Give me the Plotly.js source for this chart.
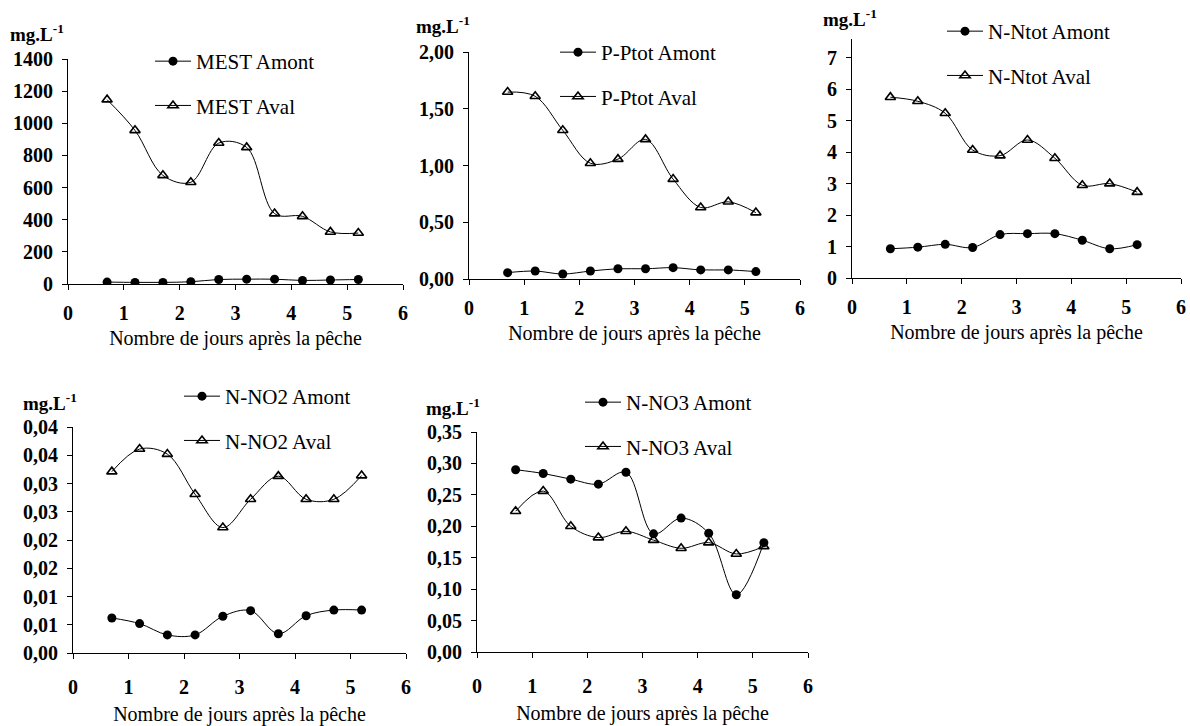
<!DOCTYPE html>
<html><head><meta charset="utf-8">
<script src="https://cdn.plot.ly/plotly-3.0.1.min.js"></script>
<style>html,body{margin:0;padding:0;background:#fff}</style>
</head><body><div id="chart" style="width:1190px;height:726px"></div>
<script>
const days = [0.7, 1.2, 1.7, 2.2, 2.7, 3.2, 3.7, 4.2, 4.7, 5.2];
const xTicks = [0, 1, 2, 3, 4, 5, 6];

const mestAmont = [12, 10, 10, 14, 28, 30, 30, 22, 25, 28];
const mestAval = [1147, 956, 676, 633, 877, 850, 438, 421, 324, 317];

const ptotAmont = [0.056, 0.07, 0.044, 0.07, 0.09, 0.09, 0.10, 0.08, 0.08, 0.065];
const ptotAval = [1.647, 1.61, 1.31, 1.02, 1.056, 1.23, 0.88, 0.63, 0.68, 0.585];

const ntotAmont = [0.93, 0.98, 1.07, 0.97, 1.38, 1.41, 1.41, 1.20, 0.93, 1.06];
const ntotAval = [5.75, 5.62, 5.24, 4.07, 3.89, 4.39, 3.81, 2.95, 3.00, 2.73];

const no2Amont = [0.0062, 0.0052, 0.0032, 0.0032, 0.0065, 0.0075, 0.0034, 0.0066, 0.0076, 0.0076];
const no2Aval = [0.0321, 0.0361, 0.0352, 0.0281, 0.0222, 0.0272, 0.0313, 0.0272, 0.0272, 0.0314];
const no2TickVals = [0, 0.005, 0.01, 0.015, 0.02, 0.025, 0.03, 0.035, 0.04];
const no2TickText = ['0,00', '0,01', '0,01', '0,02', '0,02', '0,03', '0,03', '0,04', '0,04'];

const no3Amont = [0.290, 0.284, 0.275, 0.267, 0.286, 0.188, 0.213, 0.189, 0.091, 0.174];
const no3Aval = [0.224, 0.256, 0.200, 0.182, 0.192, 0.178, 0.165, 0.174, 0.156, 0.168];

const names = [
  ['MEST Amont', 'MEST Aval'],
  ['P-Ptot Amont', 'P-Ptot Aval'],
  ['N-Ntot Amont', 'N-Ntot Aval'],
  ['N-NO2 Amont', 'N-NO2 Aval'],
  ['N-NO3 Amont', 'N-NO3 Aval']
];
const unitLabel = 'mg.L<sup>-1</sup>';
const xTitle = 'Nombre de jours après la pêche';

const W = 1190, H = 726;
const FONT = 'Liberation Serif, Times New Roman, serif';
const px = v => v / W;
const py = v => 1 - v / H;

// panel pixel boxes: [left, right, top, bottom]
const boxes = [
  [68, 403, 59, 284],
  [469, 800, 52, 279],
  [852, 1181, 39, 278],
  [73, 406, 427, 653],
  [477, 808, 432, 652]
];
const legendPos = [[150, 41], [555, 32], [942, 11], [179, 376], [580, 382]];
const unitPos = [[8, 33], [414, 25], [821, 18], [21, 402], [424, 407]];
const tickStandoff = [6, 6, 6, 11, 11];
const titleStandoff = [7, 7, 7, 9, 9];

const series = [
  [mestAmont, mestAval],
  [ptotAmont, ptotAval],
  [ntotAmont, ntotAval],
  [no2Amont, no2Aval],
  [no3Amont, no3Aval]
];

const data = [];
const layout = {
  width: W, height: H,
  margin: {l: 0, r: 0, t: 0, b: 0},
  paper_bgcolor: '#fff', plot_bgcolor: '#fff',
  separators: ', ',
  font: {family: FONT, color: '#000', size: 18},
  showlegend: true,
  annotations: []
};

series.forEach((pair, i) => {
  const k = i + 1;
  const xa = 'x' + (k === 1 ? '' : k);
  const ya = 'y' + (k === 1 ? '' : k);
  const lg = 'legend' + (k === 1 ? '' : k);
  pair.forEach((vals, j) => {
    data.push({
      x: days, y: vals, type: 'scatter', mode: 'lines+markers',
      name: names[i][j],
      xaxis: xa, yaxis: ya, legend: lg, legendgroup: 'g' + k + '_' + j,
      line: {color: '#000', width: 1, shape: 'spline', smoothing: 1},
      marker: j === 0
        ? {symbol: 'circle', size: 9, color: '#000'}
        : {symbol: 'triangle-up-open', size: 9, color: '#000', line: {width: 1.6, color: '#000'}},
      hoverinfo: 'x+y+name'
    });
  });
  const b = boxes[i];
  const xkey = 'xaxis' + (k === 1 ? '' : k);
  const ykey = 'yaxis' + (k === 1 ? '' : k);
  layout[xkey] = {
    domain: [px(b[0]), px(b[1])], anchor: ya,
    range: [0, 6], tickvals: xTicks, ticks: 'outside', ticklen: 5, tickcolor: '#000',
    showline: true, linecolor: '#000', linewidth: 1, showgrid: false, zeroline: false,
    tickfont: {family: FONT, size: 20, weight: 'bold'}, ticklabelstandoff: tickStandoff[i],
    title: {text: xTitle, font: {family: FONT, size: 20}, standoff: titleStandoff[i]},
    fixedrange: true
  };
  const yax = {
    domain: [py(b[3]), py(b[2])], anchor: xa,
    ticks: 'outside', ticklen: 5, tickcolor: '#000',
    showline: true, linecolor: '#000', linewidth: 1, showgrid: false, zeroline: false,
    tickfont: {family: FONT, size: 20, weight: 'bold'}, ticklabelstandoff: 5,
    fixedrange: true
  };
  if (i === 0) Object.assign(yax, {range: [0, 1400], dtick: 200});
  if (i === 1) Object.assign(yax, {range: [0, 2], dtick: 0.5, tickformat: '.2f'});
  if (i === 2) Object.assign(yax, {range: [0, 7.6], dtick: 1});
  if (i === 3) Object.assign(yax, {range: [0, 0.04], tickmode: 'array', tickvals: no2TickVals, ticktext: no2TickText});
  if (i === 4) Object.assign(yax, {range: [0, 0.35], dtick: 0.05, tickformat: '.2f'});
  layout[ykey] = yax;
  layout[lg] = {
    x: px(legendPos[i][0]), y: py(legendPos[i][1]), xanchor: 'left', yanchor: 'top',
    bgcolor: 'rgba(0,0,0,0)', borderwidth: 0, traceorder: 'grouped', tracegroupgap: 14,
    itemwidth: 36, font: {family: FONT, size: 21}
  };
  layout.annotations.push({
    text: unitLabel, xref: 'paper', yref: 'paper',
    x: px(unitPos[i][0]), y: py(unitPos[i][1]), xanchor: 'left', yanchor: 'middle',
    showarrow: false, font: {family: FONT, size: 19, weight: 'bold'}
  });
});

Plotly.newPlot('chart', data, layout, {displayModeBar: false, staticPlot: true});
</script></body></html>
